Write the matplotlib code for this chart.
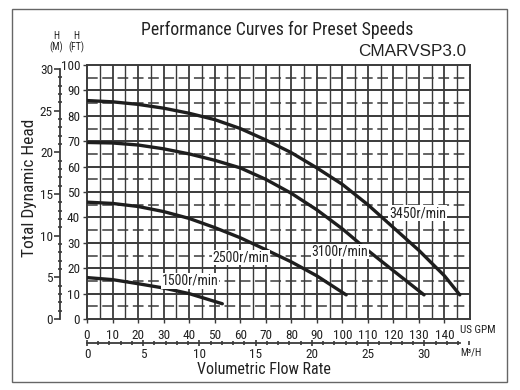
import matplotlib
matplotlib.use("Agg")
import matplotlib.pyplot as plt
from matplotlib import font_manager
from matplotlib.font_manager import FontProperties
from matplotlib.ticker import MultipleLocator, FixedLocator
from matplotlib.patches import Rectangle
import os

# find a condensed font file
cands = []
for f in font_manager.fontManager.ttflist:
    base = os.path.basename(f.fname).lower()
    if ("narrow" in base or "condensed" in base) and "bold" not in base and "italic" not in base \
            and "oblique" not in base and "light" not in base and "mono" not in base and "serif" not in base:
        cands.append(f.fname)

def rank(p):
    b = os.path.basename(p).lower().replace("-", "").replace("_", "")
    for i, key in enumerate(["liberationsansnarrow", "roboto", "opensans", "notosans", "dejavusanscondensed"]):
        if key in b:
            return i
    return 10

cands.sort(key=rank)
NARROW_FILE = cands[0] if cands else None

def nf(size):
    if NARROW_FILE:
        return FontProperties(fname=NARROW_FILE, size=size)
    return FontProperties(family="DejaVu Sans", size=size)

# ---- data (US GPM vs head in feet) ----
gpm_3450 = [0, 10, 20, 30, 40, 50, 60, 70, 80, 90, 100, 110, 120, 130, 140, 146]
ft_3450 = [86, 85.5, 84.5, 83, 81, 78.5, 75, 70.5, 65.5, 59.5, 53, 45, 36, 27, 17, 9.5]
gpm_3100 = [0, 10, 20, 30, 40, 50, 60, 70, 80, 90, 100, 110, 120, 132]
ft_3100 = [69.5, 69.3, 68.5, 67, 65, 62.5, 59.5, 55, 49.5, 43, 35.5, 27, 19, 9.5]
gpm_2500 = [0, 10, 20, 30, 40, 50, 60, 70, 80, 90, 101.5]
ft_2500 = [46, 45.5, 44.3, 42.3, 39.6, 36, 32, 27.3, 22.5, 17, 9.5]
gpm_1500 = [0, 10, 20, 30, 40, 53]
ft_1500 = [16.3, 15.5, 13.9, 12.2, 10, 6]

curve_labels = ["3450r/min", "3100r/min", "2500r/min", "1500r/min"]
label_pos = [(129.5, 41.7), (99, 26.5), (60.4, 24.2), (40.5, 15)]

gpm_ticks = list(range(0, 150, 10))
ft_ticks = list(range(0, 101, 10))
m_ticks = [0, 5, 10, 15, 20, 25, 30]
m3h_ticks = [0, 5, 10, 15, 20, 25, 30]

FT_PER_M = 1 / 0.3048
M3H_PER_GPM = 0.22712

W, H = 520, 390
fig = plt.figure(figsize=(W / 100, H / 100), dpi=100)

def fx(px):
    return px / W

def fy(py):
    return 1 - py / H

tc = "#222222"
# outer frame
fig.patches.append(Rectangle((fx(12), fy(382)), fx(507) - fx(12), fy(9) - fy(382),
                             transform=fig.transFigure, fill=False, ec="#666666", lw=1.0))

L, R, T, B = 87, 470, 65, 319
ax = fig.add_axes([fx(L), fy(B), fx(R) - fx(L), fy(T) - fy(B)])
ax.set_xlim(0, 150)
ax.set_ylim(0, 100)

gc = "#3a3a3a"
for x in range(5, 150, 5):
    ax.axvline(x, color=gc, lw=1.3 if x % 10 == 0 else 1.0, zorder=1)
for y in range(10, 100, 10):
    ax.axhline(y, color=gc, lw=1.4, zorder=1)
for y in range(5, 100, 10):
    ax.axhline(y, color=gc, lw=1.1, ls=(0, (7, 3)), zorder=1)

for s in ax.spines.values():
    s.set_color(gc)
    s.set_linewidth(1.4)

cc = "#1e1e1e"
for gx, gy in [(gpm_3450, ft_3450), (gpm_3100, ft_3100), (gpm_2500, ft_2500), (gpm_1500, ft_1500)]:
    ax.plot(gx, gy, color=cc, lw=2.4, solid_capstyle="round", zorder=3)

for txt, (x, y) in zip(curve_labels, label_pos):
    ax.text(x, y, txt, ha="center", va="center", fontproperties=nf(10), color=tc,
            bbox=dict(boxstyle="square,pad=0.05", fc="white", ec="none"), zorder=4)

ax.xaxis.set_major_locator(FixedLocator(gpm_ticks))
ax.yaxis.set_major_locator(FixedLocator(ft_ticks))
ax.tick_params(axis="both", length=3, width=1, color=gc, pad=2)
ax.tick_params(axis="x", pad=4)
for lab in ax.get_xticklabels() + ax.get_yticklabels():
    lab.set_fontproperties(nf(9.5))
    lab.set_color(tc)

# meter axis
axm = ax.twinx()
axm.set_ylim(0, 100 / FT_PER_M)
axm.yaxis.set_ticks_position("left")
axm.yaxis.set_label_position("left")
axm.spines["left"].set_position(("outward", 27 * 0.72))
axm.spines["left"].set_bounds(0, 30)
axm.spines["left"].set_color(gc)
axm.spines["left"].set_linewidth(1.3)
for k in ["right", "top", "bottom"]:
    axm.spines[k].set_visible(False)
axm.yaxis.set_major_locator(FixedLocator(m_ticks))
axm.yaxis.set_minor_locator(MultipleLocator(1))
axm.tick_params(axis="y", which="major", length=4, width=1.2, color=gc, direction="out", pad=1)
axm.tick_params(axis="y", which="minor", length=3, width=1.2, color=gc, direction="inout")
for lab in axm.get_yticklabels():
    lab.set_fontproperties(nf(9.5))
    lab.set_color(tc)

# m3/h axis
axq = ax.twiny()
axq.set_xlim(0, 150 * M3H_PER_GPM)
axq.xaxis.set_ticks_position("bottom")
axq.xaxis.set_label_position("bottom")
axq.spines["bottom"].set_position(("outward", 24 * 0.72))
axq.spines["bottom"].set_bounds(0, 146 * M3H_PER_GPM)
axq.spines["bottom"].set_color(gc)
axq.spines["bottom"].set_linewidth(1.3)
for k in ["left", "right", "top"]:
    axq.spines[k].set_visible(False)
axq.xaxis.set_major_locator(FixedLocator(m3h_ticks))
axq.xaxis.set_minor_locator(MultipleLocator(1))
axq.tick_params(axis="x", which="major", length=5, width=1.2, color=gc, direction="inout", pad=1)
axq.tick_params(axis="x", which="minor", length=3, width=1.2, color=gc, direction="inout")
for lab in axq.get_xticklabels():
    lab.set_fontproperties(nf(9.5))
    lab.set_color(tc)

# texts
fig.text(fx(277), fy(30), "Performance Curves for Preset Speeds", ha="center", va="center",
         fontproperties=nf(12.8), color=tc)
fig.text(fx(466), fy(52), "CMARVSP3.0", ha="right", va="center", fontsize=12.3,
         family="Liberation Sans", color=tc)
fig.text(fx(56), fy(42), "H\n(M)", ha="center", va="center", fontproperties=nf(7),
         color=tc, linespacing=1.0)
fig.text(fx(76), fy(42), "H\n(FT)", ha="center", va="center", fontproperties=nf(7),
         color=tc, linespacing=1.0)
fig.text(fx(30), fy(188), "Total Dynamic Head", ha="center", va="center", rotation=90,
         fontproperties=nf(12.5), color=tc)
fig.text(fx(460), fy(330), "US GPM", ha="left", va="center", fontproperties=nf(8), color=tc)
fig.text(fx(460), fy(352), "M³/H", ha="left", va="center", fontproperties=nf(7.5), color=tc)
fig.text(fx(264), fy(370), "Volumetric Flow Rate", ha="center", va="center",
         fontproperties=nf(11.5), color=tc)

fig.savefig("out.png", dpi=100)
